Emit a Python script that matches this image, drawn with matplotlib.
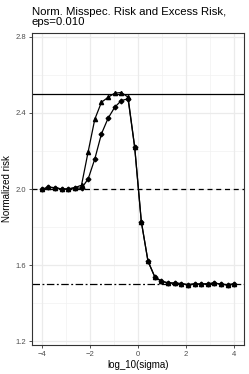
import numpy as np
import matplotlib
matplotlib.use("Agg")
import matplotlib.pyplot as plt

plt.rcParams["font.family"] = ["Liberation Sans", "DejaVu Sans"]

# log_10(sigma) grid
log_sigma = np.linspace(-4, 4, 30)

# normalized misspecification risk (triangles)
misspec_risk = [
    1.998, 2.009, 2.007, 2.000, 2.000, 2.007, 2.020, 2.196, 2.367, 2.456,
    2.482, 2.504, 2.507, 2.483, 2.220, 1.828, 1.621, 1.540, 1.515, 1.507,
    1.505, 1.503, 1.497, 1.501, 1.500, 1.502, 1.506, 1.499, 1.497, 1.501,
]
# normalized excess risk (diamonds)
excess_risk = [
    1.998, 2.009, 2.007, 2.000, 2.000, 2.007, 2.004, 2.053, 2.158, 2.290,
    2.372, 2.430, 2.465, 2.474, 2.220, 1.828, 1.621, 1.540, 1.515, 1.507,
    1.505, 1.503, 1.497, 1.501, 1.500, 1.502, 1.506, 1.499, 1.497, 1.501,
]

# reference levels
upper_ref = 2.5
mid_ref = 2.0
low_ref = 1.5

x_ticks = [-4, -2, 0, 2, 4]
y_ticks = [1.2, 1.6, 2.0, 2.4, 2.8]

fig = plt.figure(figsize=(2.49, 3.74), dpi=100)
ax = fig.add_axes([0.1285, 0.0775, 0.8515, 0.8343])

# grid like theme_bw
for v in [-3, -1, 1, 3]:
    ax.axvline(v, color="#f2f2f2", lw=0.5, zorder=0)
for v in [1.4, 1.8, 2.2, 2.6]:
    ax.axhline(v, color="#f2f2f2", lw=0.5, zorder=0)
for v in x_ticks:
    ax.axvline(v, color="#ebebeb", lw=0.9, zorder=0)
for v in y_ticks:
    ax.axhline(v, color="#ebebeb", lw=0.9, zorder=0)

ax.axhline(upper_ref, color="black", lw=0.9, zorder=1)
ax.axhline(mid_ref, color="black", lw=0.9, ls=(0, (4, 3)), zorder=1)
ax.axhline(low_ref, color="black", lw=0.9, ls=(0, (6, 2, 1.5, 2)), zorder=1)

ax.plot(log_sigma, misspec_risk, "-^", color="black", lw=0.9, ms=3.0, zorder=3)
ax.plot(log_sigma, excess_risk, "-D", color="black", lw=0.9, ms=2.4, zorder=3)

ax.set_xlim(-4.4, 4.4)
ax.set_ylim(1.18, 2.82)
ax.set_xticks(x_ticks)
ax.set_xticklabels(["\u22124", "\u22122", "0", "2", "4"])
ax.set_yticks(y_ticks)
ax.set_yticklabels(["1.2", "1.6", "2.0", "2.4", "2.8"])
ax.tick_params(labelsize=5.5, labelcolor="#4d4d4d", color="#333333",
               length=2.5, width=0.6, pad=1.5)
for s in ax.spines.values():
    s.set_color("#333333")
    s.set_linewidth(0.8)

ax.set_xlabel("log_10(sigma)", fontsize=7, labelpad=2)
ax.set_ylabel("Normalized risk", fontsize=7, labelpad=3)

fig.text(0.1285, 0.982, "Norm. Misspec. Risk and Excess Risk,\neps=0.010",
         ha="left", va="top", fontsize=8.2, linespacing=1.0)

fig.savefig("out.png", dpi=100)
